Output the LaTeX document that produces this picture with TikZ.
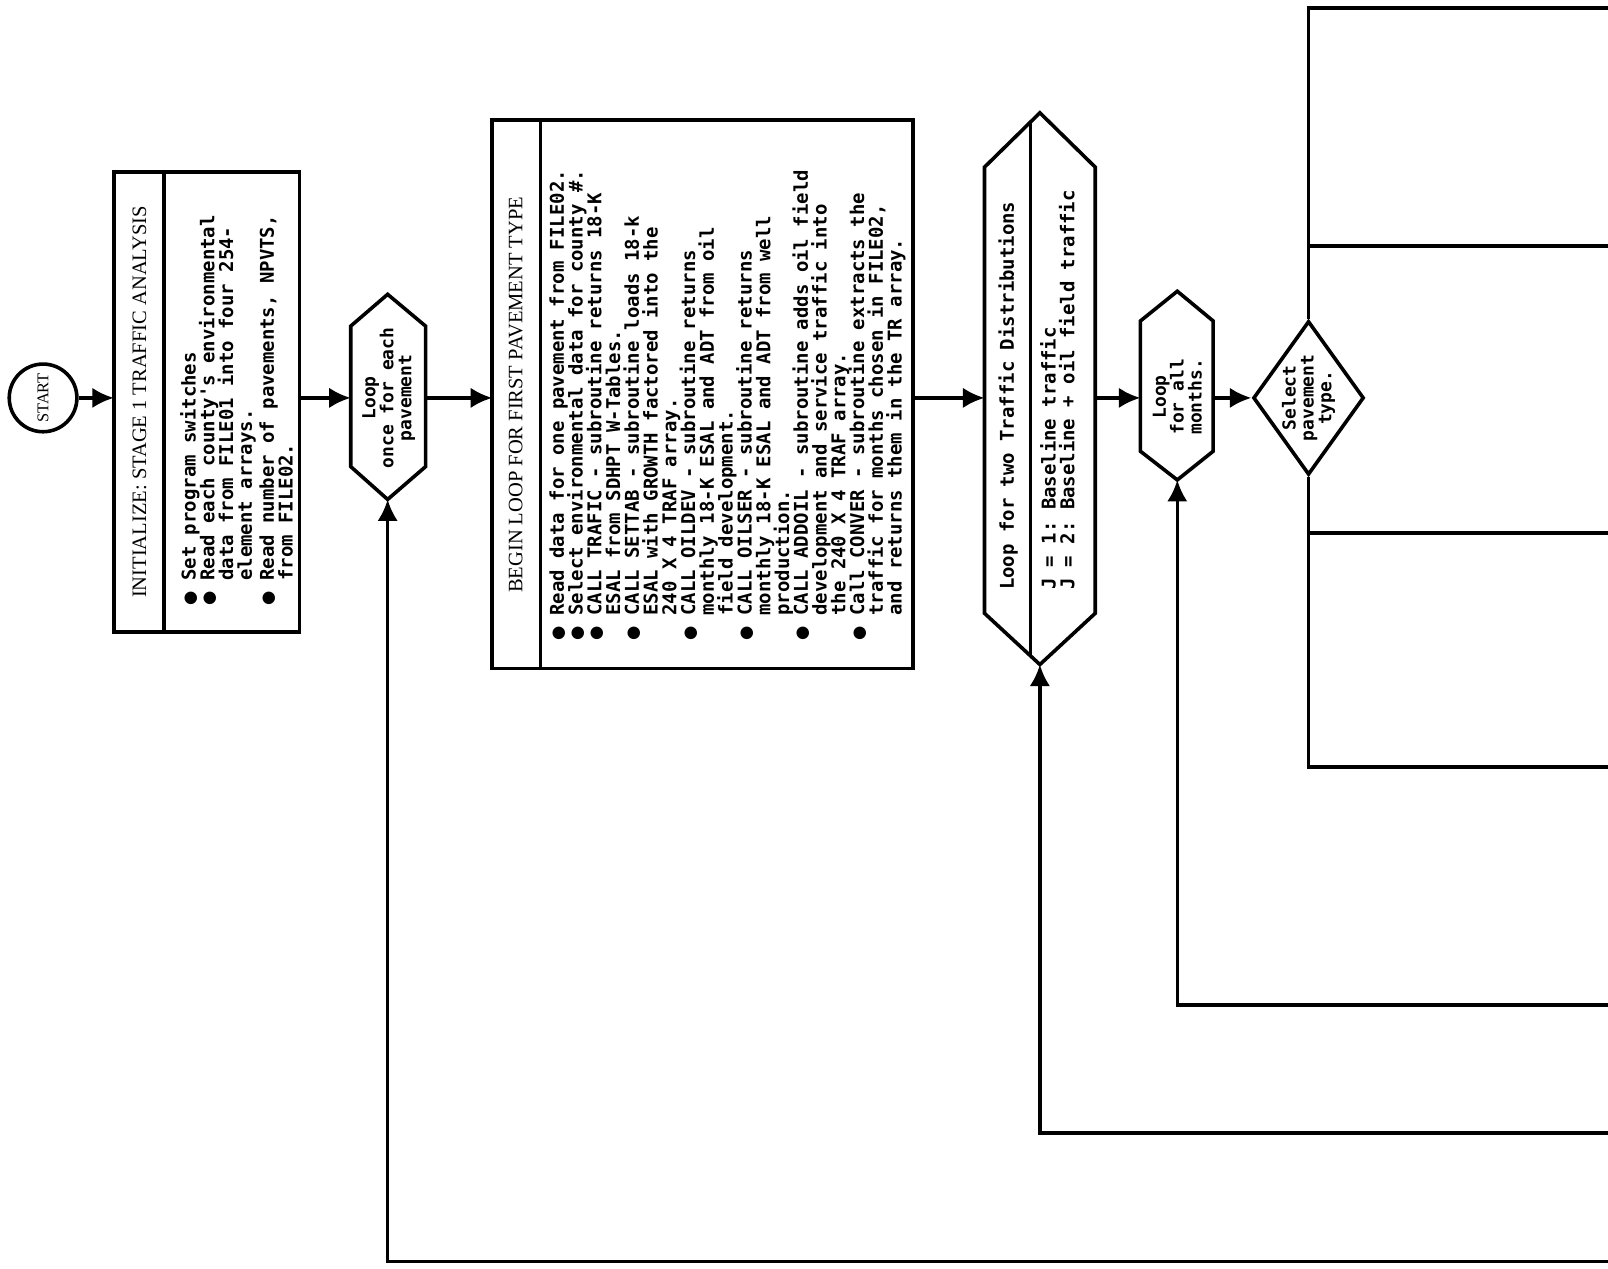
\documentclass[tikz,border=0pt]{standalone}
\usepackage{fontspec}
\setmainfont{Liberation Serif}
\newfontfamily\monofont{DejaVu Sans Mono}
\newfontfamily\dotfont{DejaVu Sans}
\usetikzlibrary{arrows.meta,shapes.geometric}
\newcommand{\bul}{\makebox[24pt][l]{\dotfont\fontsize{16}{16}\selectfont ●}}
\newcommand{\nob}{\hspace*{24pt}}
\newcommand{\tightlines}{\lineskiplimit=-20pt\relax}

\begin{document}
\begin{tikzpicture}[x=1pt,y=-1pt,line width=3.5pt,>={Latex[length=21pt,width=20pt]},
  boxed/.style={draw,inner sep=0,outer sep=0},
  ttl/.style={rotate=90,inner sep=0,font=\fontsize{20}{20}\selectfont},
  txt/.style={rotate=90,inner sep=0,align=left,font=\monofont\bfseries\fontsize{18.5}{18.3}\selectfont\tightlines},
  lbl/.style={rotate=90,inner sep=0,align=center,font=\monofont\bfseries\fontsize{17.5}{17.5}\selectfont\tightlines}]
\useasboundingbox (0,0) rectangle (1568,1237);

% start and initialization
\node[circle,draw,minimum size=66,inner sep=0,rotate=90,font=\fontsize{16}{16}\selectfont] (start) at (42,388) {START};
\node[boxed,minimum width=181,minimum height=448] (init) at (201.5,392) {};
\draw ([xshift=49pt]init.north west) -- ([xshift=49pt]init.south west);
\node[ttl] (initt) at (136,392) {INITIALIZE:\ STAGE 1 TRAFFIC ANALYSIS};
\node[txt,anchor=north west] (initb) at (174,592) {\bul Set program switches\\
\bul Read each county's environmental\\
\nob data from FILE01 into four 254-\\
\nob element arrays.\\[3pt]
\bul Read number of pavements, NPVTS,\\
\nob from FILE02.};

% loop over pavements
\coordinate (lp1n) at (378,287);
\coordinate (lp1s) at (378,487);
\coordinate (lp1w) at (342,388);
\coordinate (lp1e) at (415,388);
\draw (lp1n) -- (415,318) -- (415,455) -- (lp1s) -- (342,455) -- (342,318) -- cycle;
\node[lbl] (lp1) at (379,388) {Loop\\once for each\\pavement};

\node[boxed,minimum width=410,minimum height=535] (box2) at (685,384.5) {};
\draw ([xshift=47pt]box2.north west) -- ([xshift=47pt]box2.south west);
\node[ttl] (box2t) at (503,385) {BEGIN LOOP FOR FIRST PAVEMENT TYPE};
\node[txt,anchor=north west] (box2b) at (534,626) {\bul Read data for one pavement from FILE02.\\
\bul Select environmental data for county \#.\\
\bul CALL TRAFIC - subroutine returns 18-K\\
\nob ESAL from SDHPT W-Tables.\\
\bul CALL SETTAB - subroutine loads 18-k\\
\nob ESAL with GROWTH factored into the\\
\nob 240 X 4 TRAF array.\\
\bul CALL OILDEV - subroutine returns\\
\nob monthly 18-K ESAL and ADT from oil\\
\nob field development.\\
\bul CALL OILSER - subroutine returns\\
\nob monthly 18-K ESAL and ADT from well\\
\nob production.\\
\bul CALL ADDOIL - subroutine adds oil field\\
\nob development and service traffic into\\
\nob the 240 X 4 TRAF array.\\
\bul Call CONVER - subroutine extracts the\\
\nob traffic for months chosen in FILE02,\\
\nob and returns them in the TR array.};

% traffic distributions
\coordinate (hx2n) at (1014,110);
\coordinate (hx2s) at (1014,648);
\coordinate (hx2w) at (960,388);
\coordinate (hx2e) at (1068,388);
\draw (hx2n) -- (1068,163) -- (1068,598) -- (hx2s) -- (960,598) -- (960,163) -- cycle;
\draw (1005,119) -- (1005,640);
\node[txt,anchor=west] (hx2t) at (983,577) {Loop for two Traffic Distributions};
\node[txt,anchor=west] (hx2b) at (1031,577) {J = 1:\ Baseline traffic\\J = 2:\ Baseline + oil field traffic};

% loop over months
\coordinate (lp2n) at (1148,284);
\coordinate (lp2s) at (1148,468);
\coordinate (lp2w) at (1112,388);
\coordinate (lp2e) at (1183,388);
\draw (lp2n) -- (1183,313) -- (1183,440) -- (lp2s) -- (1112,440) -- (1112,313) -- cycle;
\node[lbl] (lp2) at (1148,387) {Loop\\for all\\months.};

\node[diamond,draw,minimum width=108,minimum height=150,inner sep=0] (sel) at (1276,388) {};
\node[lbl] (selt) at (sel) {Select\\pavement\\type.};

\coordinate (rt0) at (1568,8);
\coordinate (rt1) at (1568,240);
\coordinate (rt2) at (1568,520);
\coordinate (rt3) at (1568,748);
\coordinate (rb1) at (1568,980);
\coordinate (rb2) at (1568,1105);
\coordinate (rb3) at (1568,1230);

\draw[->] (start) -- (init.west |- start);
\draw[->] (init.east |- lp1w) -- (lp1w);
\draw[->] (lp1e) -- (box2.west |- lp1e);
\draw[->] (box2.east |- hx2w) -- (hx2w);
\draw[->] (hx2e) -- (lp2w);
\draw[->] (lp2e) -- (sel.west);
\draw (sel.north) -- (sel.north |- rt0) -- (rt0);
\draw (sel.north |- rt1) -- (rt1);
\draw (sel.south) -- (sel.south |- rt3) -- (rt3);
\draw (sel.south |- rt2) -- (rt2);
\draw[->] (rb1) -- (rb1 -| lp2s) -- (lp2s);
\draw[->] (rb2) -- (rb2 -| hx2s) -- (hx2s);
\draw[->] (rb3) -- (rb3 -| lp1s) -- (lp1s);
\end{tikzpicture}
\end{document}
